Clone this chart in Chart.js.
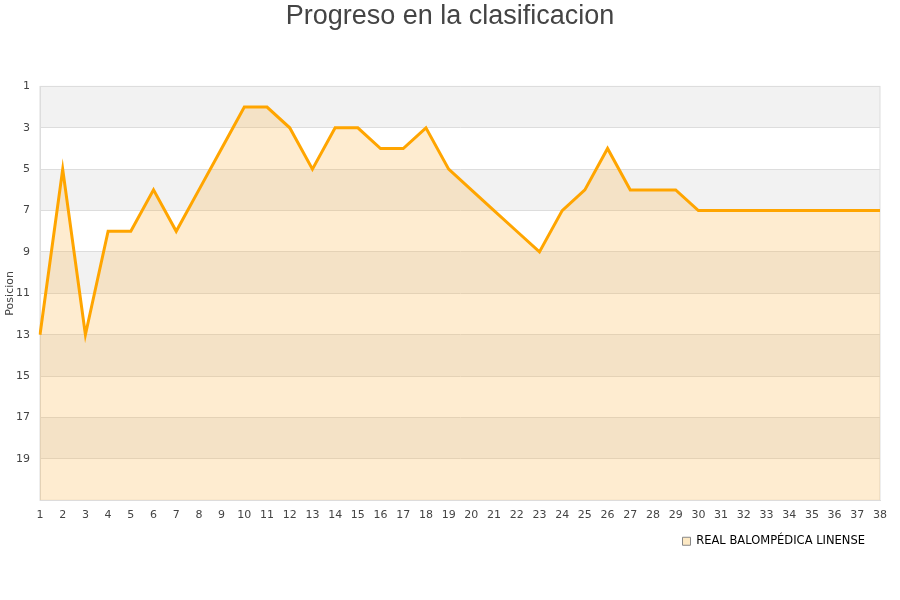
<!DOCTYPE html>
<html>
<head>
<meta charset="utf-8">
<script src="https://cdn.jsdelivr.net/npm/chart.js@4.4.0/dist/chart.umd.min.js"></script>
<style>
  html, body { margin: 0; padding: 0; background: #ffffff; }
  #wrap { width: 900px; height: 600px; }
</style>
</head>
<body>
<div id="wrap"><canvas id="myChart" width="900" height="600"></canvas></div>
<script>
const jornadas = ["1", "2", "3", "4", "5", "6", "7", "8", "9", "10", "11", "12", "13", "14", "15", "16", "17", "18", "19",
  "20", "21", "22", "23", "24", "25", "26", "27", "28", "29", "30", "31", "32", "33", "34", "35", "36", "37", "38"];
const posiciones = [13, 5, 13, 8, 8, 6, 8, 6, 4, 2, 2, 3, 5, 3, 3, 4, 4, 3, 5, 6, 7, 8, 9, 7, 6, 4, 6, 6, 6, 7, 7, 7, 7, 7, 7, 7, 7, 7];
const equipo = "REAL BALOMPÉDICA LINENSE";
const bandas = [[1, 3], [5, 7], [9, 11], [13, 15], [17, 19]];

const ctx = document.getElementById("myChart").getContext("2d");

const chart = new Chart(ctx, {
  type: "line",
  data: {
    labels: jornadas,
    datasets: [
      {
        label: equipo,
        data: posiciones,
        borderColor: "#ffa500",
        backgroundColor: "rgba(251, 179, 67, 0.25)",
        fill: { value: 21 },
        tension: 0,
        pointRadius: 0,
        borderWidth: 3,
      },
    ],
  },
  options: {
    responsive: false,
    animation: false,
    layout: { padding: { left: 0, right: 0, top: 0, bottom: 43 } },
    scales: {
      y: {
        reverse: true,
        min: 1,
        max: 21,
        border: { color: "#dddddd" },
        afterFit: (s) => {
          s.width = 40;
        },
        ticks: {
          stepSize: 2,
          color: "#444444",
          font: { family: "DejaVu Sans", size: 11 },
          padding: 10,
          callback: (v) => (v === 21 ? "" : v),
        },
        grid: { color: "#dddddd", drawTicks: false },
        title: {
          display: true,
          text: "Posicion",
          color: "#444444",
          font: { family: "DejaVu Sans", size: 11 },
          padding: { top: 4, bottom: 0 },
        },
      },
      x: {
        offset: false,
        border: { color: "#dddddd" },
        afterFit: (s) => {
          s.paddingRight = 20;
        },
        ticks: {
          color: "#444444",
          font: { family: "DejaVu Sans", size: 11 },
          maxRotation: 0,
          autoSkip: false,
          padding: 8,
        },
        grid: { display: false, drawTicks: false },
      },
    },
    plugins: {
      title: {
        display: true,
        text: "Progreso en la clasificacion",
        color: "#444444",
        font: { family: "Liberation Sans", size: 27, weight: "normal" },
        padding: { top: 0, bottom: 54 },
      },
      legend: {
        position: "bottom",
        align: "end",
        fullSize: false,
        labels: {
          color: "#222222",
          font: { family: "DejaVu Sans", size: 11.5 },
          boxWidth: 8,
          boxHeight: 8,
          padding: 6,
          generateLabels: (c) => [
            {
              text: equipo,
              fillStyle: "#fde9c4",
              strokeStyle: "#888888",
              lineWidth: 1,
              datasetIndex: 0,
            },
          ],
        },
      },
      tooltip: { enabled: false },
    },
  },
  plugins: [
    {
      id: "bandas",
      afterLayout: function (chart) {
        // legend sits a bit left of the plot's right edge
        chart.legend.left -= 9;
        chart.legend.right -= 9;
      },
      beforeDraw: function (chart) {
        const { ctx, chartArea } = chart;
        const y = chart.scales.y;
        ctx.save();
        ctx.fillStyle = "#f2f2f2";
        bandas.forEach(([a, b]) => {
          const y1 = y.getPixelForValue(a);
          const y2 = y.getPixelForValue(b);
          ctx.fillRect(chartArea.left, y1, chartArea.right - chartArea.left, y2 - y1);
        });
        ctx.strokeStyle = "#dddddd";
        ctx.lineWidth = 1;
        ctx.strokeRect(chartArea.left, chartArea.top, chartArea.right - chartArea.left, chartArea.bottom - chartArea.top);
        ctx.restore();
      },
    },
  ],
});
</script>
</body>
</html>
